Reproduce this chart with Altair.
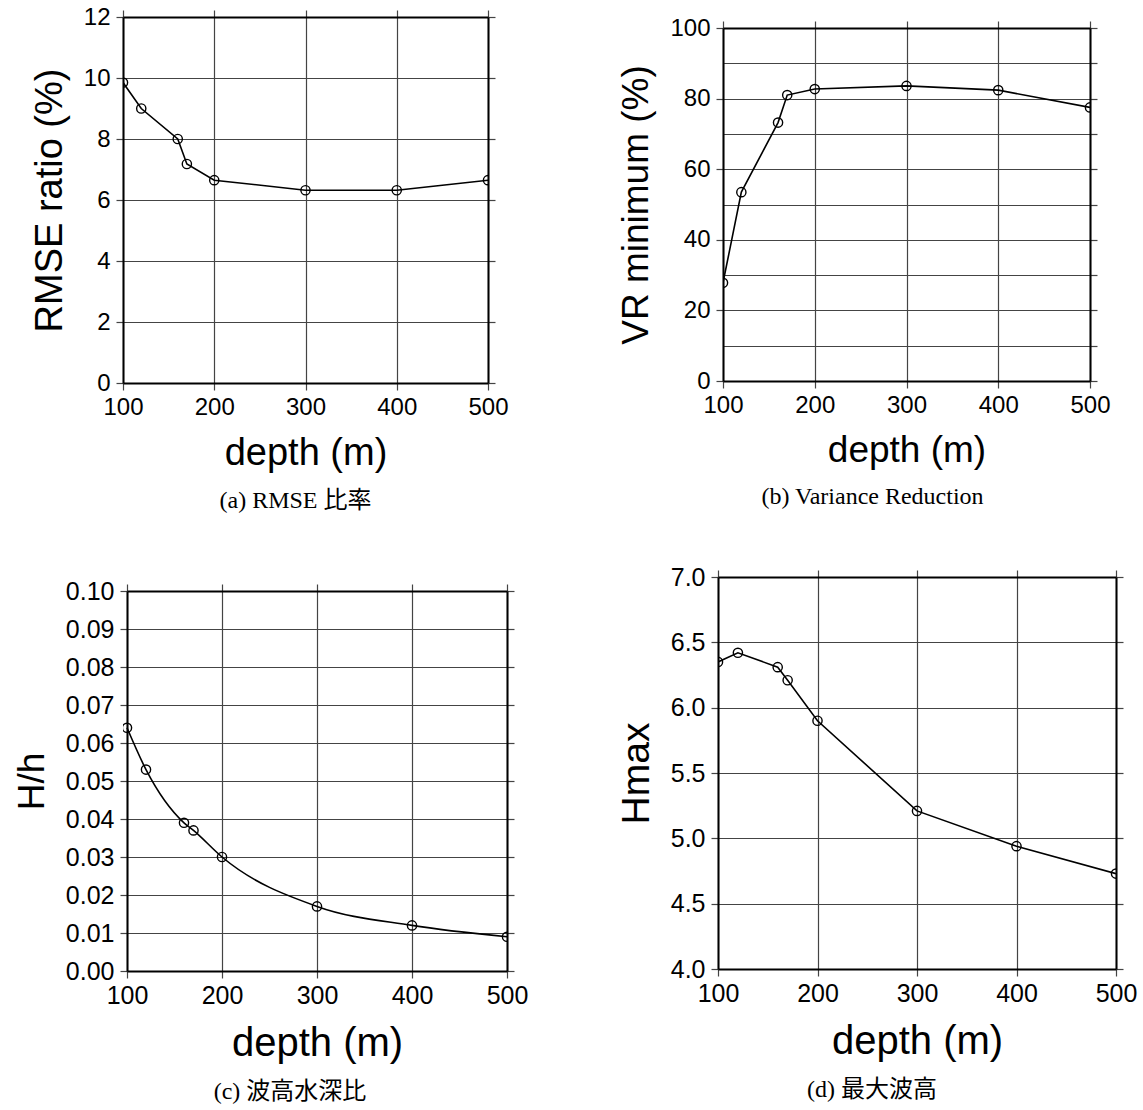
import altair as alt
import pandas as pd

# ---- data ----
depth = [100, 120, 160, 170, 200, 300, 400, 500]
rmse_ratio = [9.85, 9.0, 8.0, 7.18, 6.65, 6.32, 6.32, 6.65]
vr_minimum = [27.8, 53.5, 73.2, 81.0, 82.7, 83.6, 82.4, 77.5]
h_over_h = [0.064, 0.053, 0.039, 0.037, 0.030, 0.017, 0.012, 0.009]
hmax = [6.35, 6.42, 6.31, 6.21, 5.90, 5.21, 4.94, 4.73]

x_ticks = [100, 200, 300, 400, 500]
rmse_ticks = [0, 2, 4, 6, 8, 10, 12]
vr_label_ticks = [0, 20, 40, 60, 80, 100]
vr_grid_ticks = [0, 10, 20, 30, 40, 50, 60, 70, 80, 90, 100]
hh_ticks = [0.0, 0.01, 0.02, 0.03, 0.04, 0.05, 0.06, 0.07, 0.08, 0.09, 0.1]
hmax_ticks = [4.0, 4.5, 5.0, 5.5, 6.0, 6.5, 7.0]

x_title = "depth (m)"
y_titles = ["RMSE ratio (%)", "VR minimum (%)", "H/h", "Hmax"]
captions = ["(a) RMSE 比率", "(b) Variance Reduction", "(c)  波高水深比", "(d)  最大波高"]

SANS = "Liberation Sans"
SERIF = "Liberation Serif, Noto Sans CJK JP"


def panel(values, y_title, y_domain, y_label_ticks, y_grid_ticks, y_format,
          width, height, caption, cap_dx, x_range=None, y_range=None,
          interp="linear", left_off=0, top_off=0, label_size=24,
          x_title_size=37, y_title_size=36):
    df = pd.DataFrame({"depth": depth, "value": values})
    xs = dict(domain=[100, 500], nice=False, zero=False)
    if x_range is not None:
        xs["range"] = x_range
    ys = dict(domain=y_domain, nice=False, zero=False)
    if y_range is not None:
        ys["range"] = y_range
    xscale = alt.Scale(**xs)
    yscale = alt.Scale(**ys)
    grid_left = list(y_label_ticks) == list(y_grid_ticks)

    base = alt.Chart(df)
    line = base.mark_line(color="black", strokeWidth=1.6, interpolate=interp, clip=True).encode(
        x=alt.X("depth:Q", scale=xscale,
                axis=alt.Axis(orient="bottom", values=x_ticks, title=x_title, grid=False,
                              labelFlush=False, labelPadding=5, titlePadding=15,
                              labelFontSize=label_size, titleFontSize=x_title_size)),
        y=alt.Y("value:Q", scale=yscale,
                axis=alt.Axis(orient="left", values=y_label_ticks, format=y_format,
                              title=y_title, grid=grid_left, offset=left_off,
                              labelPadding=6, titlePadding=14,
                              labelFontSize=label_size, titleFontSize=y_title_size)),
    )
    pts = base.mark_point(shape="circle", filled=False, color="black", size=85,
                          strokeWidth=1.4, opacity=1, clip=True).encode(
        x=alt.X("depth:Q", scale=xscale,
                axis=alt.Axis(orient="top", values=x_ticks, labels=False, title=None,
                              grid=True, offset=top_off)),
        y=alt.Y("value:Q", scale=yscale,
                axis=alt.Axis(orient="right", values=y_grid_ticks, labels=False,
                              title=None, grid=not grid_left)),
    )
    return alt.layer(line, pts).resolve_axis(x="independent", y="independent").properties(
        width=width, height=height,
        title=alt.TitleParams(caption, orient="bottom", anchor="middle", frame="group",
                              font=SERIF, fontSize=24, fontWeight="normal", color="black",
                              dx=cap_dx, offset=17),
    )


pa = panel(rmse_ratio, y_titles[0], [0, 12], rmse_ticks, rmse_ticks, "d",
           365, 366, captions[0], -10, x_title_size=38, y_title_size=38)
pb = panel(vr_minimum, y_titles[1], [0, 100], vr_label_ticks, vr_grid_ticks, "d",
           367, 364, captions[1], -34, y_range=[364, 11], top_off=-11,
           x_title_size=37, y_title_size=37)
pc = panel(h_over_h, y_titles[2], [0, 0.1], hh_ticks, hh_ticks, ".2f",
           384, 394, captions[2], -25, x_range=[4, 384], y_range=[394, 14],
           interp="monotone", left_off=-4, top_off=-14, label_size=25,
           x_title_size=40, y_title_size=37)
pd_ = panel(hmax, y_titles[3], [4, 7], hmax_ticks, hmax_ticks, ".1f",
            398, 392, captions[3], -45, label_size=25,
            x_title_size=40, y_title_size=39)

row1 = alt.hconcat(pa, pb, spacing=235, bounds="flush")
row2 = alt.hconcat(pc, pd_, spacing=211, bounds="flush")

chart = alt.vconcat(row1, row2, spacing=52).properties(
    padding={"left": 13, "top": 5, "right": 5, "bottom": 5},
    background="white",
).configure_view(strokeWidth=0).configure_axis(
    domainColor="black", domainWidth=2,
    tickColor="#444", tickWidth=1.2, tickSize=7,
    labelFont=SANS, labelFontSize=24, labelColor="black",
    titleFont=SANS, titleFontSize=36, titleFontWeight="normal", titleColor="black",
    gridColor="#444", gridWidth=1.2, gridOpacity=1,
)

chart.save("out.html", embed_options={"renderer": "svg", "actions": False})
